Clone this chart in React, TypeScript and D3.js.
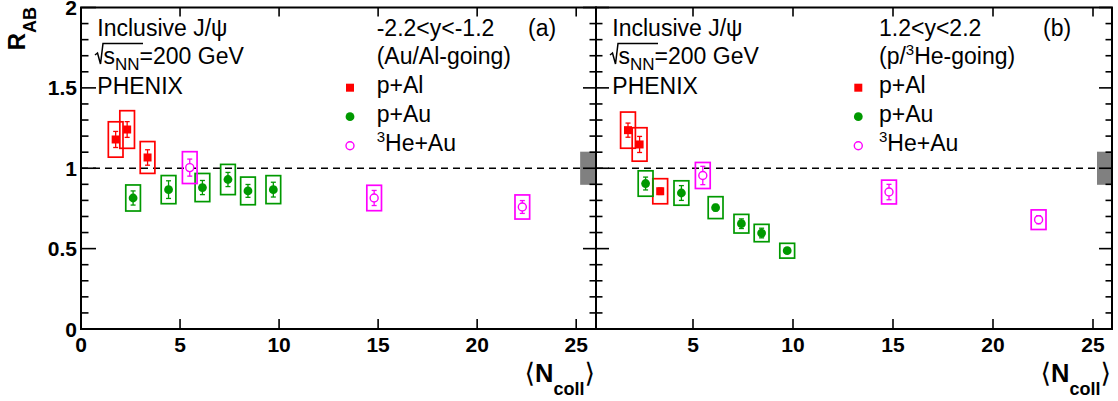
import React from "react";
import * as d3 from "d3";

// N_coll bins (same for both rapidity windows)
const ncollPAl = [1.75, 2.33, 3.36];
const ncollPAu = [2.63, 4.42, 6.13, 7.42, 8.43, 9.71];
const ncollHeAu = [5.49, 14.8, 22.28];

// backward rapidity -2.2<y<-1.2
const bwdPAl = [1.179, 1.241, 1.067];
const bwdPAlStat = [0.05, 0.049, 0.048];
const bwdPAlSyst = [0.11, 0.117, 0.099];
const bwdPAu = [0.815, 0.867, 0.88, 0.93, 0.859, 0.867];
const bwdPAuStat = [0.044, 0.055, 0.044, 0.044, 0.04, 0.046];
const bwdPAuSyst = [0.081, 0.0875, 0.0875, 0.094, 0.086, 0.087];
const bwdHeAu = [1.004, 0.815, 0.759];
const bwdHeAuStat = [0.053, 0.047, 0.04];
const bwdHeAuSyst = [0.099, 0.079, 0.075];

// forward rapidity 1.2<y<2.2
const fwdPAl = [1.237, 1.148, 0.857];
const fwdPAlStat = [0.044, 0.05, 0.02];
const fwdPAlSyst = [0.1125, 0.104, 0.078];
const fwdPAu = [0.905, 0.846, 0.755, 0.655, 0.597, 0.487];
const fwdPAuStat = [0.04, 0.046, 0.02, 0.03, 0.03, 0.015];
const fwdPAuSyst = [0.079, 0.076, 0.068, 0.058, 0.054, 0.046];
const fwdHeAu = [0.955, 0.852, 0.68];
const fwdHeAuStat = [0.057, 0.048, 0.025];
const fwdHeAuSyst = [0.081, 0.074, 0.061];

const globalSyst = 0.103;
const xTickValues = [0, 5, 10, 15, 20, 25];
const yMajorTicks = [0, 0.5, 1, 1.5, 2];
const yTickLabels = ["0", "0.5", "1", "1.5", "2"];

const RED = "#ff0000";
const GREEN = "#009900";
const MAGENTA = "#ff00ff";
const FONT = "'Liberation Sans', Arial, Helvetica, sans-serif";

const top = 7.5,
  bottom = 329;
const yScale = d3.scaleLinear().domain([0, 2]).range([bottom, top]);
const boxHalf = 0.37;

function Marker({ kind, cx, cy, color }) {
  if (kind === "square")
    return <rect x={cx - 4} y={cy - 4} width={8} height={8} fill={color} />;
  if (kind === "open")
    return <circle cx={cx} cy={cy} r={4} fill="white" stroke={color} strokeWidth={1.4} />;
  return <circle cx={cx} cy={cy} r={4.4} fill={color} />;
}

function Series({ x, xs, ys, stat, syst, color, kind }) {
  return (
    <g>
      {xs.map((v, i) => (
        <rect
          key={"b" + i}
          x={x(v - boxHalf)}
          y={yScale(ys[i] + syst[i])}
          width={x(v + boxHalf) - x(v - boxHalf)}
          height={yScale(ys[i] - syst[i]) - yScale(ys[i] + syst[i])}
          fill="none"
          stroke={color}
          strokeWidth={1.7}
        />
      ))}
      {xs.map((v, i) => {
        const cx = x(v),
          y1 = yScale(ys[i] + stat[i]),
          y2 = yScale(ys[i] - stat[i]);
        return (
          <g key={"e" + i} stroke={color} strokeWidth={1.3}>
            <line x1={cx} x2={cx} y1={y1} y2={y2} />
            <line x1={cx - 2.5} x2={cx + 2.5} y1={y1} y2={y1} />
            <line x1={cx - 2.5} x2={cx + 2.5} y1={y2} y2={y2} />
          </g>
        );
      })}
      {xs.map((v, i) => (
        <Marker key={"m" + i} kind={kind} cx={x(v)} cy={yScale(ys[i])} color={color} />
      ))}
    </g>
  );
}

function Panel({ x, first, rapidity, going, tag, legX, legTextX, series }) {
  const [x0, x1] = x.range();
  const [d0, d1] = x.domain();
  const L = x0;
  const yMinor = d3.range(0, 21).map(i => i / 10);
  const leftMaj = first ? 15 : 13;
  const leftMin = first ? 7.5 : 6.5;
  const legend = [
    { kind: "square", color: RED, label: "p+Al" },
    { kind: "circle", color: GREEN, label: "p+Au" },
    { kind: "open", color: MAGENTA, label: null }
  ];
  return (
    <g fontFamily={FONT}>
      {/* unity line and global uncertainty */}
      <line
        x1={x0}
        x2={x1}
        y1={yScale(1)}
        y2={yScale(1)}
        stroke="black"
        strokeWidth={1.4}
        strokeDasharray="7,5"
      />
      <rect
        x={x(25.2)}
        y={yScale(1 + globalSyst)}
        width={x1 - x(25.2)}
        height={yScale(1 - globalSyst) - yScale(1 + globalSyst)}
        fill="#808080"
      />
      {series.map((s, i) => (
        <Series key={i} x={x} {...s} />
      ))}
      {/* frame */}
      <rect x={x0} y={top} width={x1 - x0} height={bottom - top} fill="none" stroke="black" strokeWidth={2} />
      {xTickValues
        .filter(t => t >= d0 && t <= d1)
        .map(t => (
          <g key={"xt" + t}>
            <line x1={x(t)} x2={x(t)} y1={bottom} y2={bottom - 10} stroke="black" strokeWidth={1.6} />
            <line x1={x(t)} x2={x(t)} y1={top} y2={top + 9} stroke="black" strokeWidth={1.6} />
            <text x={x(t)} y={bottom + 23} textAnchor="middle" fontSize={21} fontWeight="bold">
              {t}
            </text>
          </g>
        ))}
      {yMinor.map((v, i) => {
        const major = i % 5 === 0;
        return (
          <g key={"yt" + i} stroke="black" strokeWidth={1.6}>
            <line x1={x0} x2={x0 + (major ? leftMaj : leftMin)} y1={yScale(v)} y2={yScale(v)} />
            <line x1={x1} x2={x1 - (major ? 13 : 6.5)} y1={yScale(v)} y2={yScale(v)} />
          </g>
        );
      })}
      {first &&
        yMajorTicks.map((v, i) => (
          <text key={"yl" + i} x={77} y={yScale(v) + 7.5} textAnchor="end" fontSize={21} fontWeight="bold">
            {yTickLabels[i]}
          </text>
        ))}
      {/* x title */}
      <text x={x1 - 1} y={381.7} textAnchor="end" fontWeight="bold">
        <tspan fontFamily="'DejaVu Sans', sans-serif" fontWeight="normal" fontSize={27}>
          ⟨
        </tspan>
        <tspan fontSize={25.5}>N</tspan>
        <tspan fontSize={18} dy={13}>
          coll
        </tspan>
        <tspan fontFamily="'DejaVu Sans', sans-serif" fontWeight="normal" fontSize={27} dy={-13}>
          ⟩
        </tspan>
      </text>
      {/* annotations */}
      <g fontSize={23}>
        <text x={L + 16.3} y={36}>
          Inclusive J/ψ
        </text>
        <path
          d={`M${L + 14},55 L${L + 16.5},53 L${L + 19.5},64 L${L + 22},43.5 L${L + 62},43.5`}
          fill="none"
          stroke="black"
          strokeWidth={1.5}
        />
        <text x={L + 22.5} y={64}>
          s
          <tspan fontSize={17} dy={6}>
            NN
          </tspan>
          <tspan dy={-6}>=200 GeV</tspan>
        </text>
        <text x={L + 16.3} y={94}>
          PHENIX
        </text>
        <text x={legTextX} y={36}>
          {rapidity}
        </text>
        <text x={L + 447} y={36}>
          {tag}
        </text>
        <text x={legTextX} y={64}>
          {going}
        </text>
        {legend.map((g, i) => (
          <g key={"lg" + i}>
            <Marker kind={g.kind} cx={legX} cy={87.7 + i * 29} color={g.color} />
            <text x={legTextX} y={93.3 + i * 29}>
              {g.label ?? (
                <>
                  <tspan fontSize={15} dy={-9}>
                    3
                  </tspan>
                  <tspan dy={9}>He+Au</tspan>
                </>
              )}
            </text>
          </g>
        ))}
      </g>
    </g>
  );
}

export default function App() {
  const xLeft = d3.scaleLinear().domain([0, 26]).range([81, 596]);
  const xRight = d3.scaleLinear().domain([0.15, 25.95]).range([596, 1112]);

  const bwdSeries = [
    { xs: ncollPAl, ys: bwdPAl, stat: bwdPAlStat, syst: bwdPAlSyst, color: RED, kind: "square" },
    { xs: ncollPAu, ys: bwdPAu, stat: bwdPAuStat, syst: bwdPAuSyst, color: GREEN, kind: "circle" },
    { xs: ncollHeAu, ys: bwdHeAu, stat: bwdHeAuStat, syst: bwdHeAuSyst, color: MAGENTA, kind: "open" }
  ];
  const fwdSeries = [
    { xs: ncollPAl, ys: fwdPAl, stat: fwdPAlStat, syst: fwdPAlSyst, color: RED, kind: "square" },
    { xs: ncollPAu, ys: fwdPAu, stat: fwdPAuStat, syst: fwdPAuSyst, color: GREEN, kind: "circle" },
    { xs: ncollHeAu, ys: fwdHeAu, stat: fwdHeAuStat, syst: fwdHeAuSyst, color: MAGENTA, kind: "open" }
  ];

  return (
    <svg
      width={1118}
      height={401}
      style={{ position: "absolute", left: 0, top: 0, background: "white" }}
    >
      <rect width={1118} height={401} fill="white" />
      <text
        transform="translate(25,7) rotate(-90)"
        textAnchor="end"
        fontFamily={FONT}
        fontWeight="bold"
      >
        <tspan fontSize={24}>R</tspan>
        <tspan fontSize={18} dy={11}>
          AB
        </tspan>
      </text>
      <Panel
        x={xLeft}
        first={true}
        rapidity="-2.2<y<-1.2"
        going="(Au/Al-going)"
        tag="(a)"
        legX={350}
        legTextX={376.7}
        series={bwdSeries}
      />
      <Panel
        x={xRight}
        first={false}
        rapidity="1.2<y<2.2"
        going={
          <>
            (p/
            <tspan fontSize={15} dy={-9}>
              3
            </tspan>
            <tspan dy={9}>He-going)</tspan>
          </>
        }
        tag="(b)"
        legX={858.3}
        legTextX={879}
        series={fwdSeries}
      />
    </svg>
  );
}
